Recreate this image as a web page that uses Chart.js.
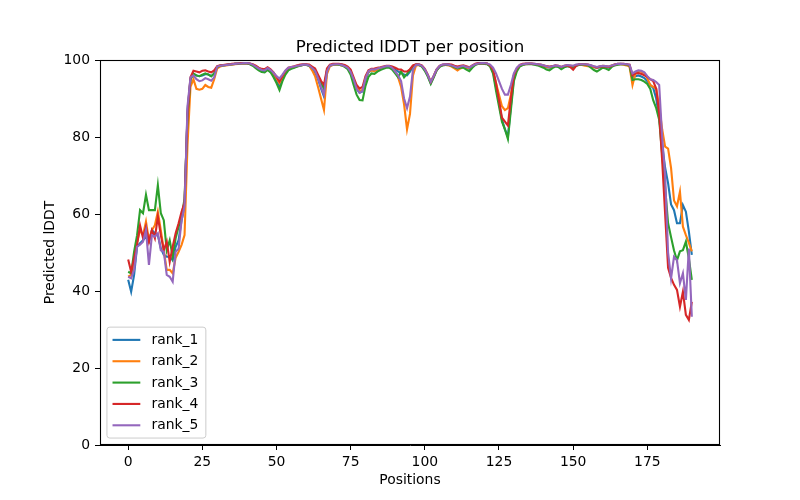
<!DOCTYPE html>
<html><head><meta charset="utf-8">
<script src="https://cdn.jsdelivr.net/npm/chart.js@4.4.1/dist/chart.umd.min.js"></script>
<style>html,body{margin:0;padding:0;background:#fff}#wrap{width:800px;height:500px}</style>
</head><body><div id="wrap"><canvas id="c" width="800" height="500"></canvas></div>
<script>
const seriesNames = ['rank_1', 'rank_2', 'rank_3', 'rank_4', 'rank_5'];
const seriesColors = ['#1f77b4', '#ff7f0e', '#2ca02c', '#d62728', '#9467bd'];
const xTickValues = [0, 25, 50, 75, 100, 125, 150, 175];
const yTickValues = [0, 20, 40, 60, 80, 100];
const chartTitle = 'Predicted lDDT per position';
const xLabel = 'Positions';
const yLabel = 'Predicted lDDT';

const rank_1 = [42.9,39.8,44.2,51.5,52.4,53.2,54.1,52.8,55.8,55.0,54.5,51.1,49.4,48.9,48.9,48.0,51.5,53.2,58.4,62.0,87.0,
95.0,96.3,96.0,95.8,96.0,96.3,96.3,95.8,96.5,
98.2,98.5,98.6,98.7,98.8,98.9,99.0,99.1,99.1,99.2,99.2,99.0,98.7,98.2,97.6,97.2,97.0,97.6,97.0,96.0,94.8,93.3,95.0,96.7,97.6,97.9,98.1,98.4,98.6,98.8,98.8,98.6,
97.8,96.8,95.0,92.6,90.5,97.0,98.6,
98.8,98.9,98.9,98.8,98.5,98.0,96.8,94.5,92.5,91.5,91.8,94.8,96.8,97.4,97.3,97.6,97.8,98.1,98.3,98.3,98.0,97.5,97.0,96.6,96.2,96.0,97.0,98.4,98.8,98.8,98.4,
97.4,95.9,94.0,95.6,97.4,98.3,98.7,98.8,98.8,98.6,98.2,97.9,98.2,98.4,98.0,97.7,98.4,98.9,99.1,99.1,99.1,99.0,98.5,97.0,93.0,89.0,84.5,82.0,80.0,88.0,95.0,97.5,98.5,
98.8,99.0,99.0,99.0,98.9,98.8,98.6,98.4,98.1,98.0,98.2,98.5,98.3,97.8,98.2,98.5,98.3,98.2,98.6,98.8,98.8,98.8,98.7,98.5,98.2,97.9,98.1,98.3,98.2,98.0,98.4,98.7,98.9,99.0,98.9,98.8,98.6,
95.5,95.8,96.0,95.7,95.3,94.5,93.5,92.7,90.0,85.0,78.0,72.0,68.0,62.5,61.0,57.6,57.6,62.3,60.6,55.5,49.4];

const rank_2 = [43.7,44.2,47.3,52.8,55.8,54.5,58.0,53.2,55.8,57.1,60.6,55.8,50.6,45.5,45.5,44.6,48.6,50.2,52.0,54.5,78.0,
93.0,95.0,92.5,92.3,92.5,93.5,93.0,92.8,95.0,
97.8,98.3,98.5,98.6,98.7,98.8,98.9,99.0,99.1,99.1,99.1,99.0,98.8,98.4,97.9,97.5,97.4,97.9,97.3,96.5,95.3,94.0,95.5,97.0,97.8,98.0,98.2,98.4,98.6,98.7,98.8,98.5,
97.3,95.8,93.0,90.0,87.0,96.3,98.4,
98.7,98.8,98.8,98.6,98.3,97.9,96.8,95.0,93.0,92.0,92.2,95.4,97.0,97.3,97.1,97.5,97.7,98.0,98.2,98.2,97.9,97.0,95.5,93.0,88.5,82.0,86.0,96.0,98.5,98.7,98.4,
97.5,96.0,94.2,95.8,97.5,98.4,98.7,98.7,98.6,98.3,97.8,97.3,97.8,98.2,98.0,97.9,98.4,98.9,99.0,99.1,99.1,99.0,98.5,97.0,94.0,91.0,88.0,87.0,87.5,91.0,96.0,97.5,98.5,
98.8,98.9,99.0,99.0,98.9,98.8,98.6,98.4,98.2,98.1,98.3,98.5,98.4,98.1,98.4,98.6,98.5,98.4,98.7,98.8,98.7,98.5,98.4,98.3,98.1,98.0,98.3,98.5,98.4,98.3,98.6,98.8,98.9,98.9,98.8,98.6,98.3,
93.5,96.5,97.0,97.0,96.6,95.2,93.5,93.0,92.5,88.0,82.0,77.5,77.0,72.0,63.5,62.0,65.8,56.7,54.5,52.5,50.3];

const rank_3 = [45.0,44.6,50.2,54.5,61.0,60.2,65.0,61.0,61.0,61.0,67.5,60.2,58.4,50.6,53.2,48.9,53.7,56.7,59.3,64.0,85.0,
95.0,96.5,96.0,95.8,96.2,96.5,96.2,95.8,96.5,
98.2,98.5,98.6,98.7,98.8,98.9,99.0,99.0,99.1,99.1,99.1,98.9,98.5,97.9,97.3,96.9,96.8,97.4,96.8,95.5,94.0,92.2,94.5,96.2,97.3,97.7,98.0,98.3,98.5,98.7,98.7,98.5,
98.0,97.3,95.6,94.0,92.5,97.4,98.6,
98.8,98.9,98.8,98.6,98.2,97.6,96.2,93.5,91.0,89.6,89.5,93.3,95.6,96.5,96.4,97.0,97.4,97.7,98.0,98.0,97.5,96.5,95.5,97.0,95.5,96.4,97.5,98.4,98.7,98.7,98.3,
97.2,95.7,93.8,95.5,97.3,98.2,98.6,98.7,98.7,98.5,98.1,97.8,98.0,98.0,97.5,97.1,98.0,98.7,99.0,99.1,99.0,98.9,98.3,96.5,92.0,88.0,84.0,82.0,79.5,87.0,94.5,97.0,98.3,
98.7,98.9,98.9,98.9,98.8,98.6,98.3,98.0,97.5,97.3,97.9,98.3,98.2,97.6,98.1,98.4,98.2,98.1,98.5,98.7,98.8,98.8,98.6,98.0,97.4,97.0,97.5,98.0,97.8,97.4,98.2,98.6,98.8,98.9,98.9,98.8,98.5,
94.8,95.0,95.0,94.8,94.4,93.8,92.5,89.5,87.5,84.5,75.5,67.0,57.6,54.0,50.5,48.0,50.3,50.6,52.8,48.5,42.9];

const rank_4 = [48.2,45.0,48.5,52.0,57.0,53.8,56.7,52.8,55.8,53.7,59.3,54.5,50.6,52.8,47.6,51.5,55.0,57.6,60.6,63.0,86.0,
95.5,97.2,97.0,96.8,97.2,97.3,97.0,96.8,97.3,
98.4,98.6,98.7,98.8,98.9,99.0,99.1,99.1,99.2,99.2,99.2,99.1,98.9,98.5,98.0,97.7,97.6,98.1,97.6,96.8,95.6,94.4,95.8,97.2,98.0,98.2,98.4,98.6,98.8,98.9,98.9,98.8,
98.3,97.8,96.2,94.6,93.5,97.8,98.8,
99.0,99.0,99.0,98.9,98.7,98.3,97.5,95.5,93.5,92.6,93.0,95.8,97.3,97.7,97.8,98.0,98.1,98.3,98.5,98.5,98.3,98.0,97.6,97.5,97.0,97.0,97.6,98.6,98.9,98.9,98.6,
97.7,96.2,94.3,95.9,97.6,98.5,98.8,98.9,98.9,98.8,98.5,98.3,98.5,98.6,98.4,98.1,98.6,99.0,99.2,99.2,99.2,99.1,98.6,97.5,94.0,89.5,85.0,84.0,83.0,90.0,96.0,97.8,98.7,
99.0,99.1,99.1,99.1,99.0,98.9,98.8,98.6,98.4,98.3,98.4,98.6,98.5,98.2,98.5,98.6,98.2,97.5,98.5,98.9,98.9,98.9,98.8,98.6,98.3,98.1,98.3,98.4,98.3,98.2,98.5,98.8,99.0,99.0,99.0,98.9,98.8,
96.0,96.5,96.6,96.4,96.0,95.6,95.0,94.5,92.5,86.0,74.0,60.0,46.0,43.4,41.6,40.3,35.9,39.8,33.8,32.5,37.2];

const rank_5 = [43.7,43.3,45.5,51.5,52.0,52.8,55.8,46.8,54.5,54.1,55.0,50.6,50.2,44.2,43.7,42.4,50.2,51.0,58.4,62.0,88.0,
95.5,96.0,95.0,94.5,94.7,95.3,95.0,94.6,95.5,
98.3,98.5,98.6,98.7,98.8,98.9,99.0,99.1,99.1,99.2,99.2,99.1,98.8,98.3,97.8,97.4,97.3,97.9,97.4,96.7,95.8,95.2,96.2,97.3,98.0,98.2,98.3,98.5,98.6,98.8,98.8,98.6,
97.9,97.2,95.2,93.0,91.0,97.0,98.6,
98.8,98.9,98.9,98.7,98.4,98.0,96.9,95.0,92.5,91.5,92.0,95.3,97.1,97.6,97.5,97.8,98.0,98.2,98.4,98.4,98.0,97.0,96.0,94.5,90.0,87.5,90.5,97.5,98.7,98.8,98.5,
97.6,96.1,94.3,95.9,97.6,98.5,98.8,98.9,98.8,98.6,98.3,98.0,98.3,98.5,98.2,98.0,98.5,98.9,99.1,99.2,99.2,99.1,98.8,98.0,96.5,94.5,92.5,91.0,91.0,93.5,96.5,98.0,98.7,
98.9,99.0,99.1,99.1,99.0,98.9,98.8,98.6,98.4,98.2,98.4,98.6,98.5,98.2,98.5,98.7,98.6,98.5,98.8,98.9,98.9,98.9,98.8,98.6,98.4,98.2,98.4,98.5,98.4,98.3,98.6,98.8,99.0,99.0,99.0,98.9,98.8,
96.5,97.0,97.3,97.2,96.8,95.8,95.0,94.8,94.3,93.5,80.0,70.0,50.0,43.3,48.9,48.0,42.0,44.6,37.7,51.0,33.3];

const allSeries = [rank_1, rank_2, rank_3, rank_4, rank_5];
const positions = rank_1.map((_, i) => i);

const FONT = "'DejaVu Sans', 'Liberation Sans', sans-serif";
const FS = 13.9;

const decor = {
  id: 'decor',
  afterDraw(chart) {
    const ctx = chart.ctx;
    const a = chart.chartArea;
    ctx.save();
    // frame (all four spines)
    ctx.strokeStyle = '#000';
    ctx.lineWidth = 1.1;
    ctx.strokeRect(Math.round(a.left) + 0.5, Math.round(a.top) + 0.5, Math.round(a.right - a.left) - 1, Math.round(a.bottom - a.top) - 1);
    // title
    ctx.fillStyle = '#000';
    ctx.font = `16.7px ${FONT}`;
    ctx.textAlign = 'center';
    ctx.textBaseline = 'alphabetic';
    ctx.fillText(chartTitle, (a.left + a.right) / 2, a.top - 8.5);
    // axis labels
    ctx.font = `${FS}px ${FONT}`;
    ctx.textBaseline = 'middle';
    ctx.fillText(xLabel, (a.left + a.right) / 2, 480);
    ctx.save();
    ctx.translate(50, (a.top + a.bottom) / 2);
    ctx.rotate(-Math.PI / 2);
    ctx.fillText(yLabel, 0, 0);
    ctx.restore();
    // legend
    const pad = 0.4 * FS, handleLen = 2 * FS, textPad = 0.8 * FS, rowH = 14.4, spacing = 0.5 * FS;
    let tw = 0;
    seriesNames.forEach(n => { tw = Math.max(tw, ctx.measureText(n).width); });
    const w = pad + handleLen + textPad + tw + pad + 2;
    const h = 2 * pad + seriesNames.length * rowH + (seriesNames.length - 1) * spacing;
    const lx = a.left + 0.5 * FS;
    const ly = a.bottom - 0.5 * FS - h;
    const r = 2.8;
    ctx.beginPath();
    ctx.moveTo(lx + r, ly);
    ctx.lineTo(lx + w - r, ly);
    ctx.quadraticCurveTo(lx + w, ly, lx + w, ly + r);
    ctx.lineTo(lx + w, ly + h - r);
    ctx.quadraticCurveTo(lx + w, ly + h, lx + w - r, ly + h);
    ctx.lineTo(lx + r, ly + h);
    ctx.quadraticCurveTo(lx, ly + h, lx, ly + h - r);
    ctx.lineTo(lx, ly + r);
    ctx.quadraticCurveTo(lx, ly, lx + r, ly);
    ctx.closePath();
    ctx.fillStyle = 'rgba(255,255,255,0.8)';
    ctx.fill();
    ctx.strokeStyle = '#cccccc';
    ctx.lineWidth = 1;
    ctx.stroke();
    ctx.textAlign = 'left';
    ctx.textBaseline = 'middle';
    seriesNames.forEach((n, k) => {
      const cy = ly + pad + rowH / 2 + k * (rowH + spacing);
      ctx.strokeStyle = seriesColors[k];
      ctx.lineWidth = 2.1;
      ctx.beginPath();
      ctx.moveTo(lx + pad, cy);
      ctx.lineTo(lx + pad + handleLen, cy);
      ctx.stroke();
      ctx.fillStyle = '#000';
      ctx.fillText(n, lx + pad + handleLen + textPad, cy + 0.5);
    });
    ctx.restore();
  }
};

new Chart(document.getElementById('c').getContext('2d'), {
  type: 'line',
  data: {
    datasets: allSeries.map((vals, k) => ({
      label: seriesNames[k],
      data: vals.map((v, i) => ({ x: positions[i], y: v })),
      borderColor: seriesColors[k],
      backgroundColor: seriesColors[k],
      borderWidth: 2.1,
      pointRadius: 0,
      tension: 0,
      fill: false,
      order: allSeries.length - k
    }))
  },
  options: {
    responsive: false,
    animation: false,
    devicePixelRatio: 1,
    layout: { padding: { left: 0, right: 80, top: 60, bottom: 0 } },
    plugins: { legend: { display: false }, title: { display: false }, tooltip: { enabled: false } },
    scales: {
      x: {
        type: 'linear', min: -9.5, max: 199.5,
        afterBuildTicks: s => { s.ticks = xTickValues.map(v => ({ value: v })); },
        afterFit: s => { s.height = 55; },
        ticks: { autoSkip: false, maxRotation: 0, color: '#000', font: { family: FONT, size: FS }, padding: 4, callback: v => String(v) },
        grid: { display: true, drawOnChartArea: false, drawTicks: true, tickLength: 5, color: '#000', lineWidth: 1 },
        border: { display: true, color: '#000', width: 1 }
      },
      y: {
        type: 'linear', min: 0, max: 100,
        afterBuildTicks: s => { s.ticks = yTickValues.map(v => ({ value: v })); },
        afterFit: s => { s.width = 100; },
        ticks: { autoSkip: false, color: '#000', font: { family: FONT, size: FS }, padding: 5, callback: v => String(v) },
        grid: { display: true, drawOnChartArea: false, drawTicks: true, tickLength: 5, color: '#000', lineWidth: 1 },
        border: { display: true, color: '#000', width: 1 }
      }
    }
  },
  plugins: [decor]
});
</script>
</body></html>
